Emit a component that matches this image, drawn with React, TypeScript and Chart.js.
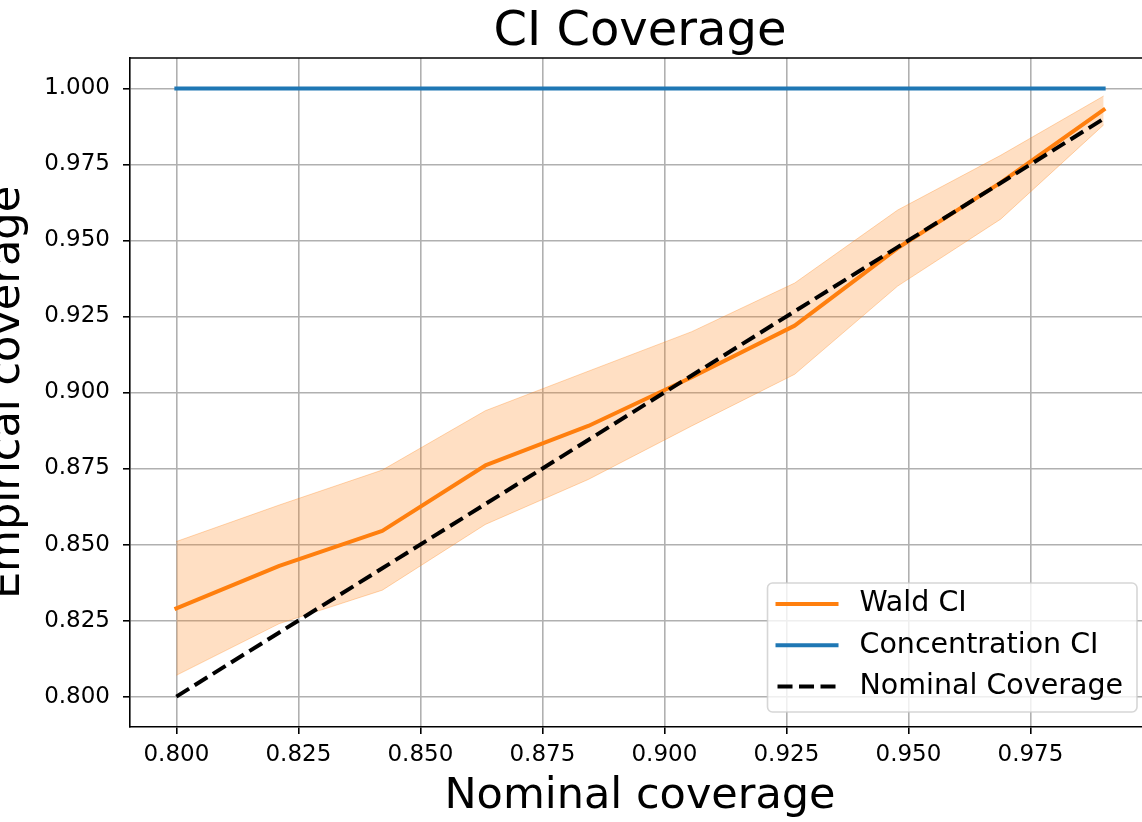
import React, { useEffect, useRef } from 'react';
import { Chart, registerables } from 'chart.js';

Chart.register(...registerables);

// ---- data ----
const nominalLevels = [0.8, 0.8211, 0.8422, 0.8633, 0.8844, 0.9056, 0.9267, 0.9478, 0.9689, 0.99];
const waldCoverage = [0.829, 0.843, 0.8545, 0.876, 0.889, 0.905, 0.922, 0.9475, 0.969, 0.993];
const waldUpper = [0.851, 0.863, 0.8745, 0.894, 0.907, 0.92, 0.936, 0.96, 0.978, 0.9975];
const waldLower = [0.807, 0.824, 0.835, 0.8566, 0.8714, 0.889, 0.906, 0.935, 0.957, 0.988];
const concentrationCoverage = [1.0, 1.0, 1.0, 1.0, 1.0, 1.0, 1.0, 1.0, 1.0, 1.0];
const nominalCoverage = [0.8, 0.8211, 0.8422, 0.8633, 0.8844, 0.9056, 0.9267, 0.9478, 0.9689, 0.99];

const titleText = 'CI Coverage';
const xLabel = 'Nominal coverage';
const yLabel = 'Empirical coverage';
const legendLabels = ['Wald CI', 'Concentration CI', 'Nominal Coverage'];

const FONT = '"DejaVu Sans", sans-serif';
const ORANGE = '#ff7f0e';
const BLUE = '#1f77b4';

const pts = (ys: number[]) => nominalLevels.map((x, i) => ({ x, y: ys[i] }));

const frameAndLegend = {
  id: 'frameAndLegend',
  afterDraw(chart: any) {
    const { ctx, chartArea } = chart;
    ctx.save();
    // top spine
    ctx.strokeStyle = '#000';
    ctx.lineWidth = 1.6;
    ctx.beginPath();
    ctx.moveTo(chartArea.left, chartArea.top);
    ctx.lineTo(chartArea.right, chartArea.top);
    ctx.stroke();

    // title, centred over the axes
    ctx.font = `48px ${FONT}`;
    ctx.fillStyle = '#000';
    ctx.textAlign = 'center';
    ctx.textBaseline = 'alphabetic';
    ctx.fillText(titleText, (chartArea.left + chartArea.right) / 2, chartArea.top - 13);

    // legend
    const items = legendLabels.map((lbl) => chart.data.datasets.find((d: any) => d.label === lbl));
    ctx.font = `28.5px ${FONT}`;
    let tw = 0;
    items.forEach((d: any) => { tw = Math.max(tw, ctx.measureText(d.label).width); });
    const w = 8 + 63 + 21 + tw + 14;
    const h = 129;
    const x0 = chartArea.right - 13 - w;
    const y0 = chartArea.bottom - 15 - h;
    ctx.beginPath();
    ctx.roundRect(x0, y0, w, h, 5);
    ctx.fillStyle = 'rgba(255,255,255,0.8)';
    ctx.fill();
    ctx.strokeStyle = 'rgba(204,204,204,0.8)';
    ctx.lineWidth = 1.6;
    ctx.stroke();
    items.forEach((d: any, i: number) => {
      const cy = y0 + 21 + i * 41.3;
      ctx.beginPath();
      ctx.strokeStyle = d.borderColor;
      ctx.lineWidth = d.borderWidth;
      ctx.setLineDash(d.borderDash || []);
      ctx.lineCap = d.borderDash ? 'butt' : 'square';
      ctx.moveTo(x0 + 10, cy);
      ctx.lineTo(x0 + 69, cy);
      ctx.stroke();
      ctx.setLineDash([]);
      ctx.fillStyle = '#000';
      ctx.textBaseline = 'middle';
      ctx.textAlign = 'left';
      ctx.fillText(d.label, x0 + 92, cy);
    });
    ctx.restore();
  },
};

export default function App() {
  const ref = useRef<HTMLCanvasElement | null>(null);
  useEffect(() => {
    document.body.style.margin = '0';
    Chart.defaults.font.family = FONT;
    const chart = new Chart(ref.current as HTMLCanvasElement, {
      type: 'line',
      data: {
        datasets: [
          {
            label: 'lower',
            data: pts(waldLower),
            borderColor: 'rgba(255,127,14,0.3)',
            borderWidth: 1,
            pointRadius: 0,
            fill: false,
            order: 4,
          },
          {
            label: 'upper',
            data: pts(waldUpper),
            borderColor: 'rgba(255,127,14,0.3)',
            backgroundColor: 'rgba(255,127,14,0.25)',
            borderWidth: 1,
            pointRadius: 0,
            fill: '-1',
            order: 3,
          },
          {
            label: 'Wald CI',
            data: pts(waldCoverage),
            borderColor: ORANGE,
            borderWidth: 4,
            pointRadius: 0,
            borderCapStyle: 'square',
            borderJoinStyle: 'round',
            fill: false,
            order: 2,
          },
          {
            label: 'Concentration CI',
            data: pts(concentrationCoverage),
            borderColor: BLUE,
            borderWidth: 4,
            pointRadius: 0,
            borderCapStyle: 'square',
            fill: false,
            order: 1,
          },
          {
            label: 'Nominal Coverage',
            data: pts(nominalCoverage),
            borderColor: '#000',
            borderWidth: 4,
            borderDash: [15, 6.5],
            borderCapStyle: 'butt',
            pointRadius: 0,
            fill: false,
            order: 0,
          },
        ] as any,
      },
      options: {
        animation: false,
        responsive: false,
        maintainAspectRatio: false,
        layout: { padding: { top: 58, left: 0, right: 0, bottom: 0 } },
        elements: { line: { tension: 0 } },
        plugins: {
          legend: { display: false },
          tooltip: { enabled: false },
          title: { display: false },
        },
        scales: {
          x: {
            type: 'linear',
            min: 0.7905,
            max: 0.9995,
            afterFit: (s: any) => { s.height = 95; },
            ticks: {
              stepSize: 0.025,
              includeBounds: false,
              color: '#000',
              font: { family: FONT, size: 23 },
              padding: 7,
              maxRotation: 0,
              callback: (v: any) => Number(v).toFixed(3),
            },
            grid: { color: '#b0b0b0', lineWidth: 1.6, tickColor: '#000', tickLength: 7, tickWidth: 1.6 },
            border: { display: true, color: '#000', width: 1.6 },
            title: {
              display: true,
              text: xLabel,
              color: '#000',
              font: { family: FONT, size: 43, lineHeight: 1 },
              padding: { top: 0, bottom: 4 },
            },
          },
          y: {
            type: 'linear',
            min: 0.79,
            max: 1.01,
            afterFit: (s: any) => { s.width = 130; },
            ticks: {
              stepSize: 0.025,
              includeBounds: false,
              color: '#000',
              font: { family: FONT, size: 23 },
              padding: 13,
              callback: (v: any) => Number(v).toFixed(3),
            },
            grid: { color: '#b0b0b0', lineWidth: 1.6, tickColor: '#000', tickLength: 7, tickWidth: 1.6 },
            border: { display: true, color: '#000', width: 1.6 },
            title: {
              display: true,
              text: yLabel,
              color: '#000',
              font: { family: FONT, size: 43, lineHeight: 1 },
              padding: { top: -14, bottom: 0 },
            },
          },
        },
      } as any,
      plugins: [frameAndLegend],
    });
    return () => chart.destroy();
  }, []);
  return (
    <div style={{ width: 1142, height: 822, position: 'relative', overflow: 'hidden' }}>
      <canvas ref={ref} width={1150} height={822} style={{ display: 'block' }} />
    </div>
  );
}
